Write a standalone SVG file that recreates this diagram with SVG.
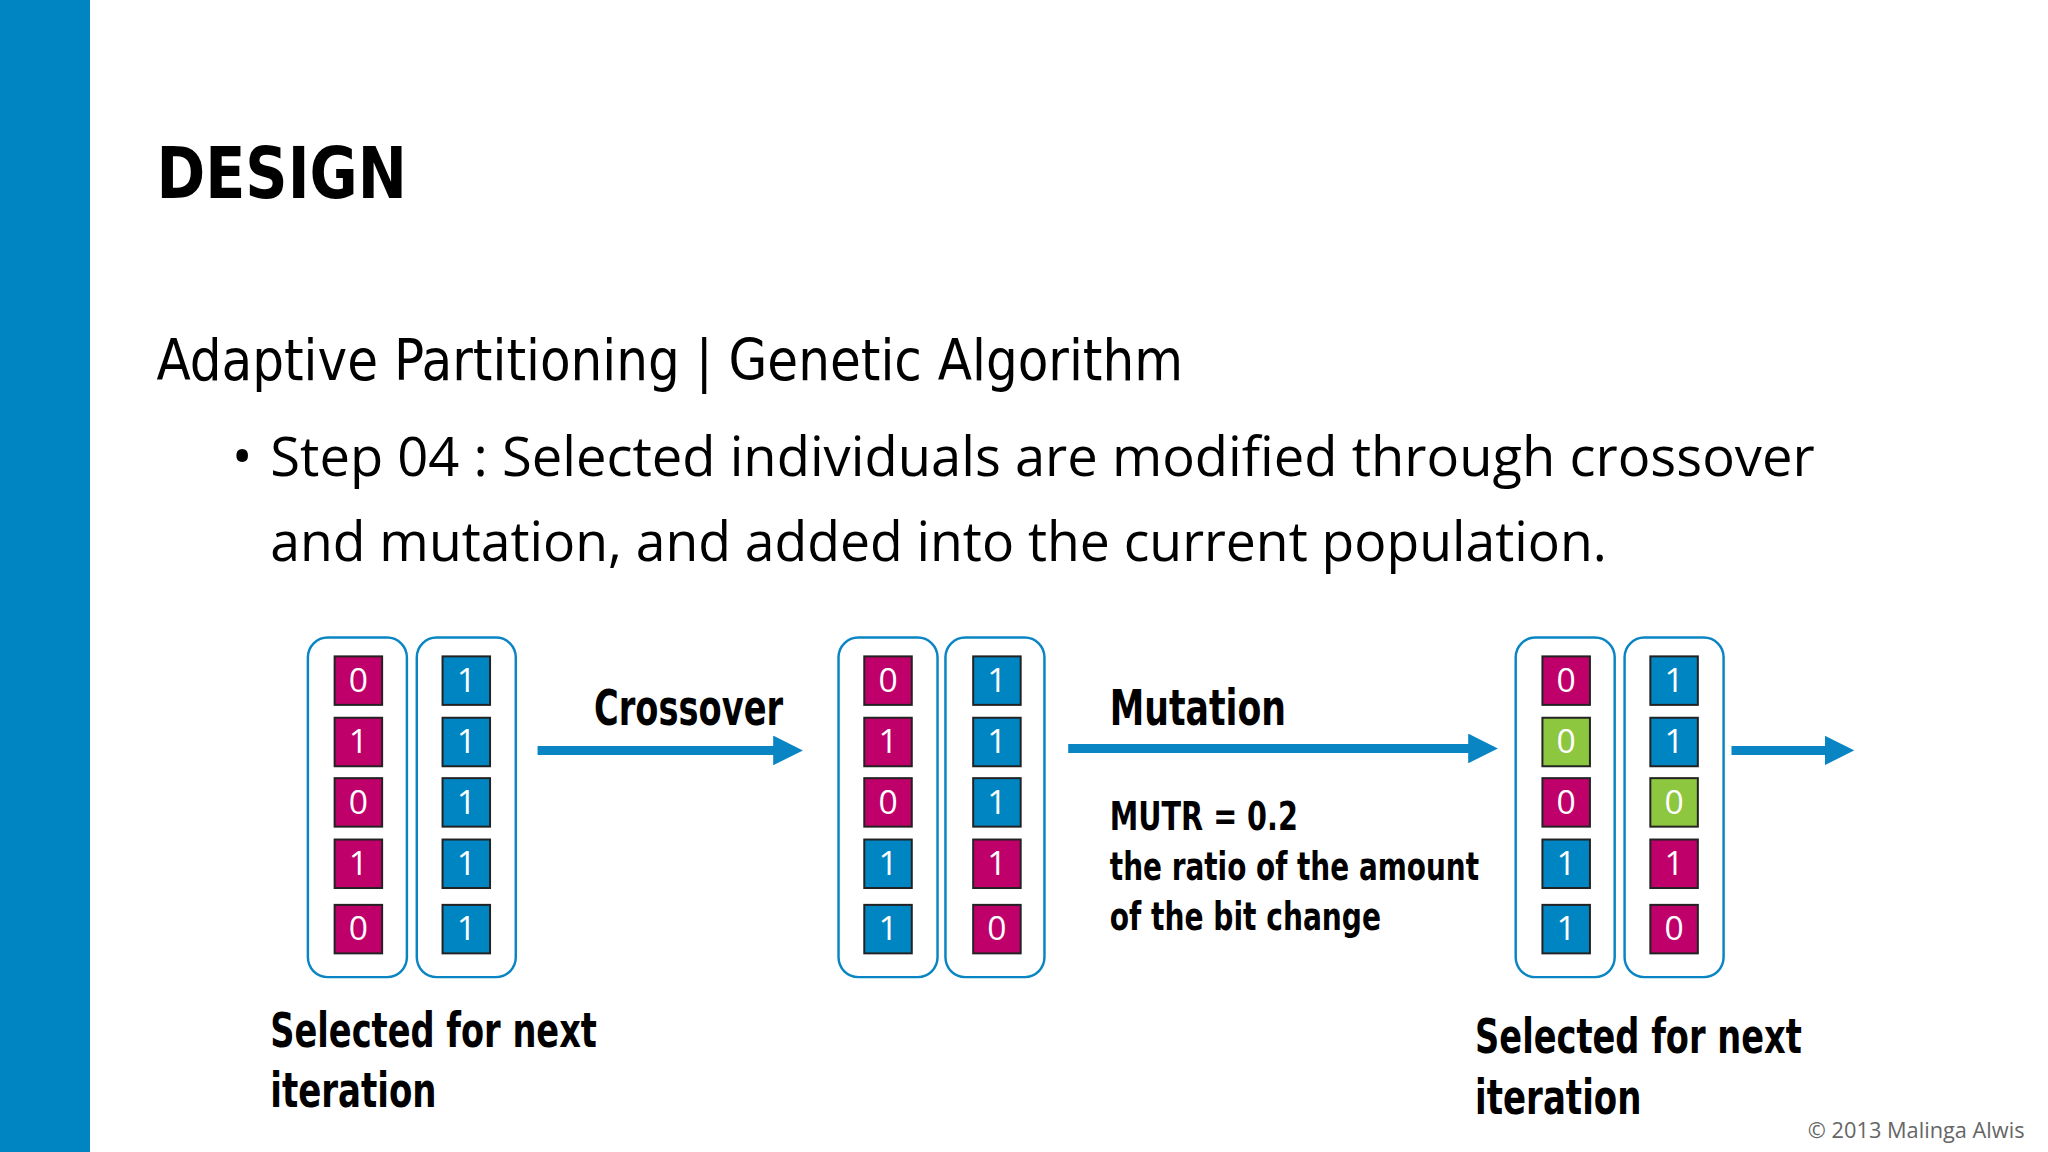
<svg xmlns="http://www.w3.org/2000/svg" width="2048" height="1152" viewBox="0 0 2048 1152">
<style>
.h{font-family:"DejaVu Sans Condensed","DejaVu Sans",sans-serif;font-weight:bold;fill:#000}
.r{font-family:"DejaVu Sans Condensed","DejaVu Sans",sans-serif;fill:#000}
.b{font-family:"Open Sans","Liberation Sans",sans-serif;fill:#000}
.box{fill:#fff;stroke:#0a85c3;stroke-width:2.5}
.m{fill:#c0006a;stroke:#222;stroke-width:2}
.u{fill:#0085c3;stroke:#222;stroke-width:2}
.g{fill:#8dc63f;stroke:#222;stroke-width:2}
.t{font-family:"Open Sans","Liberation Sans",sans-serif;font-size:34px;fill:#fff;text-anchor:middle}
.arr{stroke:#0a85c3;stroke-width:9;fill:none;marker-end:url(#ah)}
</style>
<defs>
<marker id="ah" markerUnits="userSpaceOnUse" markerWidth="30" markerHeight="30" refX="2" refY="15" orient="auto"><path d="M0,0 L30,15 L0,30 Z" fill="#0a85c3"/></marker>
</defs>
<rect width="2048" height="1152" fill="#fff"/>
<rect x="0" y="0" width="90" height="1152" fill="#0085c3"/>
<g transform="scale(0.99)">
<text class="h" x="158" y="200" font-size="72" textLength="253" lengthAdjust="spacingAndGlyphs">DESIGN</text>
<text class="r" x="158" y="384" font-size="58" textLength="1037" lengthAdjust="spacingAndGlyphs">Adaptive Partitioning | Genetic Algorithm</text>
<text class="b" x="234" y="481" font-size="56">•</text>
<text class="b" x="273" y="481" font-size="56" textLength="1560" lengthAdjust="spacingAndGlyphs">Step 04 : Selected individuals are modified through crossover</text>
<text class="b" x="273" y="567" font-size="56" textLength="1350" lengthAdjust="spacingAndGlyphs">and mutation, and added into the current population.</text>

<g id="connectors">
<line class="arr" x1="543" y1="758" x2="783" y2="758"/>
<line class="arr" x1="1079" y1="756" x2="1485" y2="756"/>
<line class="arr" x1="1749" y1="758" x2="1845" y2="758"/>
</g>

<g id="labels">
<text class="h" x="600" y="732" font-size="50" textLength="191" lengthAdjust="spacingAndGlyphs">Crossover</text>
<text class="h" x="1121" y="732" font-size="50" textLength="178" lengthAdjust="spacingAndGlyphs">Mutation</text>
<text class="h" x="1121" y="838" font-size="40" textLength="190" lengthAdjust="spacingAndGlyphs">MUTR = 0.2</text>
<text class="h" x="1121" y="889" font-size="40" textLength="373" lengthAdjust="spacingAndGlyphs">the ratio of the amount</text>
<text class="h" x="1121" y="939" font-size="40" textLength="274" lengthAdjust="spacingAndGlyphs">of the bit change</text>
<text class="h" x="273" y="1058" font-size="48" textLength="330" lengthAdjust="spacingAndGlyphs">Selected for next</text>
<text class="h" x="273" y="1118" font-size="48" textLength="168" lengthAdjust="spacingAndGlyphs">iteration</text>
<text class="h" x="1490" y="1064" font-size="48" textLength="330" lengthAdjust="spacingAndGlyphs">Selected for next</text>
<text class="h" x="1490" y="1125" font-size="48" textLength="168" lengthAdjust="spacingAndGlyphs">iteration</text>
<text x="2045" y="1150" font-family="Open Sans,Liberation Sans,sans-serif" font-size="22" fill="#666" text-anchor="end">© 2013 Malinga Alwis</text>
</g>

<g id="p1a">
<rect class="box" x="311" y="644" width="100" height="343" rx="20"/>
<rect class="m" x="338" y="663" width="48" height="49"/><text class="t" x="362" y="699">0</text>
<rect class="m" x="338" y="725" width="48" height="49"/><text class="t" x="362" y="761">1</text>
<rect class="m" x="338" y="786" width="48" height="49"/><text class="t" x="362" y="822">0</text>
<rect class="m" x="338" y="848" width="48" height="49"/><text class="t" x="362" y="884">1</text>
<rect class="m" x="338" y="914" width="48" height="49"/><text class="t" x="362" y="950">0</text>
</g>
<g id="p1b">
<rect class="box" x="421" y="644" width="100" height="343" rx="20"/>
<rect class="u" x="447" y="663" width="48" height="49"/><text class="t" x="471" y="699">1</text>
<rect class="u" x="447" y="725" width="48" height="49"/><text class="t" x="471" y="761">1</text>
<rect class="u" x="447" y="786" width="48" height="49"/><text class="t" x="471" y="822">1</text>
<rect class="u" x="447" y="848" width="48" height="49"/><text class="t" x="471" y="884">1</text>
<rect class="u" x="447" y="914" width="48" height="49"/><text class="t" x="471" y="950">1</text>
</g>
<g id="p2a">
<rect class="box" x="847" y="644" width="100" height="343" rx="20"/>
<rect class="m" x="873" y="663" width="48" height="49"/><text class="t" x="897" y="699">0</text>
<rect class="m" x="873" y="725" width="48" height="49"/><text class="t" x="897" y="761">1</text>
<rect class="m" x="873" y="786" width="48" height="49"/><text class="t" x="897" y="822">0</text>
<rect class="u" x="873" y="848" width="48" height="49"/><text class="t" x="897" y="884">1</text>
<rect class="u" x="873" y="914" width="48" height="49"/><text class="t" x="897" y="950">1</text>
</g>
<g id="p2b">
<rect class="box" x="955" y="644" width="100" height="343" rx="20"/>
<rect class="u" x="983" y="663" width="48" height="49"/><text class="t" x="1007" y="699">1</text>
<rect class="u" x="983" y="725" width="48" height="49"/><text class="t" x="1007" y="761">1</text>
<rect class="u" x="983" y="786" width="48" height="49"/><text class="t" x="1007" y="822">1</text>
<rect class="m" x="983" y="848" width="48" height="49"/><text class="t" x="1007" y="884">1</text>
<rect class="m" x="983" y="914" width="48" height="49"/><text class="t" x="1007" y="950">0</text>
</g>
<g id="p3a">
<rect class="box" x="1531" y="644" width="100" height="343" rx="20"/>
<rect class="m" x="1558" y="663" width="48" height="49"/><text class="t" x="1582" y="699">0</text>
<rect class="g" x="1558" y="725" width="48" height="49"/><text class="t" x="1582" y="761">0</text>
<rect class="m" x="1558" y="786" width="48" height="49"/><text class="t" x="1582" y="822">0</text>
<rect class="u" x="1558" y="848" width="48" height="49"/><text class="t" x="1582" y="884">1</text>
<rect class="u" x="1558" y="914" width="48" height="49"/><text class="t" x="1582" y="950">1</text>
</g>
<g id="p3b">
<rect class="box" x="1641" y="644" width="100" height="343" rx="20"/>
<rect class="u" x="1667" y="663" width="48" height="49"/><text class="t" x="1691" y="699">1</text>
<rect class="u" x="1667" y="725" width="48" height="49"/><text class="t" x="1691" y="761">1</text>
<rect class="g" x="1667" y="786" width="48" height="49"/><text class="t" x="1691" y="822">0</text>
<rect class="m" x="1667" y="848" width="48" height="49"/><text class="t" x="1691" y="884">1</text>
<rect class="m" x="1667" y="914" width="48" height="49"/><text class="t" x="1691" y="950">0</text>
</g>
</g>
</svg>
